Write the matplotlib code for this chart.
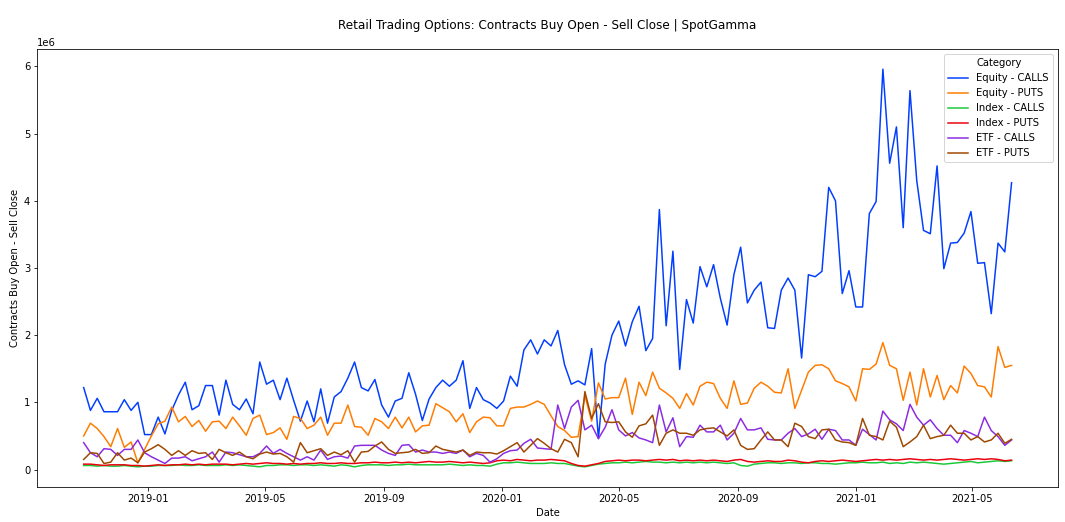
import pandas as pd
import numpy as np
import matplotlib
matplotlib.use("Agg")
import matplotlib.pyplot as plt

# weekly retail flow, values in millions of contracts
dates = pd.date_range(start="2018-10-26", periods=138, freq="7D")

equity_calls = [
    1.22, 0.88, 1.06, 0.86, 0.86, 0.86, 1.04, 0.88, 1.00, 0.52,
    0.52, 0.78, 0.53, 0.88, 1.11, 1.30, 0.89, 0.95, 1.25, 1.25,
    0.81, 1.33, 0.97, 0.89, 1.05, 0.83, 1.60, 1.27, 1.33, 1.04,
    1.36, 1.03, 0.72, 1.02, 0.71, 1.20, 0.69, 1.08, 1.16, 1.36,
    1.60, 1.22, 1.17, 1.34, 0.96, 0.78, 1.02, 1.06, 1.44, 1.12,
    0.73, 1.05, 1.22, 1.33, 1.24, 1.33, 1.62, 0.91, 1.22, 1.04,
    0.99, 0.91, 1.02, 1.39, 1.24, 1.78, 1.93, 1.72, 1.93, 1.84,
    2.07, 1.56, 1.27, 1.32, 1.26, 1.80, 0.46, 1.57, 2.00, 2.21,
    1.84, 2.20, 2.43, 1.77, 1.95, 3.87, 2.14, 3.25, 1.49, 2.53,
    2.18, 3.02, 2.72, 3.05, 2.55, 2.15, 2.90, 3.31, 2.48, 2.67,
    2.79, 2.11, 2.10, 2.67, 2.85, 2.67, 1.66, 2.90, 2.87, 2.95,
    4.20, 4.00, 2.62, 2.96, 2.42, 2.42, 3.81, 3.99, 5.96, 4.56,
    5.10, 3.60, 5.64, 4.30, 3.56, 3.51, 4.52, 2.99, 3.37, 3.38,
    3.52, 3.84, 3.07, 3.08, 2.32, 3.37, 3.24, 4.27,
]

equity_puts = [
    0.50, 0.69, 0.61, 0.49, 0.34, 0.61, 0.33, 0.41, 0.10, 0.30,
    0.50, 0.68, 0.72, 0.93, 0.71, 0.79, 0.64, 0.73, 0.57, 0.71,
    0.72, 0.61, 0.78, 0.65, 0.51, 0.76, 0.81, 0.52, 0.55, 0.62,
    0.45, 0.79, 0.76, 0.61, 0.66, 0.78, 0.51, 0.69, 0.69, 0.96,
    0.64, 0.63, 0.51, 0.76, 0.71, 0.61, 0.78, 0.62, 0.78, 0.56,
    0.65, 0.66, 0.98, 0.92, 0.86, 0.71, 0.83, 0.55, 0.71, 0.78,
    0.77, 0.65, 0.65, 0.91, 0.93, 0.93, 0.97, 1.02, 0.97, 0.80,
    0.64, 0.58, 0.48, 0.49, 1.10, 0.72, 1.29, 1.05, 1.07, 1.07,
    1.36, 0.82, 1.30, 1.10, 1.45, 1.21, 1.14, 1.06, 0.91, 1.13,
    0.96, 1.24, 1.30, 1.28, 1.06, 0.91, 1.32, 0.97, 0.99, 1.21,
    1.30, 1.24, 1.15, 1.14, 1.50, 0.91, 1.18, 1.45, 1.55, 1.56,
    1.50, 1.32, 1.28, 1.23, 1.02, 1.50, 1.49, 1.57, 1.89, 1.55,
    1.50, 1.03, 1.45, 0.96, 1.50, 1.08, 1.40, 1.04, 1.25, 1.14,
    1.54, 1.43, 1.25, 1.23, 1.08, 1.83, 1.52, 1.55,
]

index_calls = [
    0.06, 0.06, 0.05, 0.06, 0.05, 0.05, 0.06, 0.05, 0.04, 0.05,
    0.05, 0.06, 0.06, 0.06, 0.07, 0.06, 0.06, 0.07, 0.06, 0.06,
    0.06, 0.07, 0.06, 0.07, 0.06, 0.05, 0.04, 0.06, 0.06, 0.07,
    0.07, 0.06, 0.07, 0.07, 0.06, 0.07, 0.06, 0.05, 0.07, 0.06,
    0.04, 0.06, 0.07, 0.07, 0.07, 0.06, 0.07, 0.07, 0.08, 0.07,
    0.07, 0.07, 0.07, 0.07, 0.08, 0.07, 0.06, 0.07, 0.06, 0.06,
    0.05, 0.08, 0.10, 0.10, 0.11, 0.10, 0.09, 0.09, 0.09, 0.10,
    0.09, 0.09, 0.07, 0.05, 0.04, 0.06, 0.08, 0.09, 0.10, 0.10,
    0.11, 0.10, 0.11, 0.12, 0.11, 0.11, 0.10, 0.11, 0.10, 0.11,
    0.10, 0.11, 0.10, 0.11, 0.10, 0.09, 0.10, 0.06, 0.05, 0.08,
    0.09, 0.10, 0.10, 0.09, 0.10, 0.10, 0.09, 0.10, 0.10, 0.09,
    0.09, 0.08, 0.09, 0.10, 0.10, 0.11, 0.10, 0.10, 0.11, 0.09,
    0.10, 0.09, 0.11, 0.10, 0.11, 0.10, 0.09, 0.08, 0.09, 0.10,
    0.11, 0.12, 0.10, 0.11, 0.12, 0.13, 0.12, 0.13,
]

index_puts = [
    0.08, 0.08, 0.07, 0.06, 0.07, 0.07, 0.07, 0.06, 0.06, 0.05,
    0.06, 0.07, 0.06, 0.07, 0.07, 0.08, 0.07, 0.08, 0.07, 0.08,
    0.08, 0.08, 0.07, 0.08, 0.09, 0.08, 0.09, 0.10, 0.09, 0.09,
    0.08, 0.09, 0.08, 0.09, 0.09, 0.10, 0.09, 0.09, 0.10, 0.09,
    0.09, 0.10, 0.10, 0.11, 0.10, 0.10, 0.11, 0.10, 0.11, 0.10,
    0.11, 0.12, 0.11, 0.11, 0.12, 0.11, 0.10, 0.11, 0.10, 0.09,
    0.10, 0.13, 0.14, 0.13, 0.15, 0.14, 0.13, 0.14, 0.14, 0.15,
    0.14, 0.13, 0.09, 0.06, 0.05, 0.07, 0.09, 0.12, 0.13, 0.14,
    0.13, 0.14, 0.14, 0.13, 0.14, 0.15, 0.14, 0.15, 0.13, 0.14,
    0.13, 0.14, 0.13, 0.14, 0.13, 0.12, 0.14, 0.15, 0.12, 0.11,
    0.12, 0.13, 0.12, 0.12, 0.14, 0.13, 0.11, 0.10, 0.12, 0.13,
    0.12, 0.13, 0.14, 0.13, 0.12, 0.13, 0.14, 0.15, 0.14, 0.15,
    0.14, 0.15, 0.16, 0.15, 0.14, 0.15, 0.14, 0.15, 0.16, 0.15,
    0.14, 0.15, 0.16, 0.15, 0.16, 0.15, 0.13, 0.14,
]

etf_calls = [
    0.40, 0.25, 0.19, 0.31, 0.30, 0.21, 0.30, 0.30, 0.44, 0.25,
    0.19, 0.14, 0.09, 0.17, 0.17, 0.19, 0.13, 0.16, 0.19, 0.26,
    0.11, 0.26, 0.25, 0.22, 0.19, 0.19, 0.24, 0.35, 0.24, 0.30,
    0.24, 0.19, 0.14, 0.19, 0.14, 0.29, 0.15, 0.19, 0.20, 0.17,
    0.35, 0.36, 0.36, 0.36, 0.29, 0.24, 0.21, 0.36, 0.37, 0.26,
    0.29, 0.26, 0.26, 0.24, 0.26, 0.24, 0.29, 0.19, 0.24, 0.21,
    0.11, 0.16, 0.24, 0.28, 0.29, 0.39, 0.45, 0.32, 0.31, 0.30,
    0.96, 0.61, 0.93, 1.03, 0.59, 0.66, 0.46, 0.63, 0.89, 0.59,
    0.50, 0.55, 0.47, 0.44, 0.40, 0.96, 0.56, 0.77, 0.34, 0.49,
    0.48, 0.66, 0.56, 0.56, 0.66, 0.44, 0.54, 0.76, 0.59, 0.59,
    0.62, 0.45, 0.44, 0.44, 0.54, 0.61, 0.49, 0.53, 0.60, 0.45,
    0.60, 0.58, 0.44, 0.44, 0.36, 0.60, 0.52, 0.44, 0.87, 0.74,
    0.68, 0.58, 0.97, 0.78, 0.66, 0.74, 0.61, 0.51, 0.51, 0.40,
    0.58, 0.54, 0.49, 0.78, 0.58, 0.49, 0.36, 0.44,
]

etf_puts = [
    0.15, 0.25, 0.24, 0.09, 0.11, 0.25, 0.14, 0.17, 0.10, 0.26,
    0.31, 0.37, 0.30, 0.21, 0.28, 0.21, 0.28, 0.24, 0.25, 0.15,
    0.30, 0.25, 0.21, 0.26, 0.19, 0.16, 0.23, 0.26, 0.23, 0.24,
    0.19, 0.11, 0.40, 0.25, 0.28, 0.31, 0.21, 0.26, 0.22, 0.28,
    0.11, 0.26, 0.27, 0.35, 0.41, 0.30, 0.24, 0.25, 0.26, 0.30,
    0.24, 0.25, 0.35, 0.30, 0.28, 0.26, 0.29, 0.21, 0.26, 0.25,
    0.25, 0.23, 0.28, 0.34, 0.40, 0.26, 0.36, 0.46, 0.39, 0.31,
    0.26, 0.45, 0.40, 0.19, 1.16, 0.76, 0.98, 0.71, 0.70, 0.71,
    0.56, 0.48, 0.65, 0.68, 0.81, 0.36, 0.54, 0.59, 0.54, 0.54,
    0.51, 0.59, 0.61, 0.62, 0.56, 0.50, 0.59, 0.36, 0.30, 0.31,
    0.44, 0.56, 0.44, 0.44, 0.34, 0.69, 0.64, 0.49, 0.46, 0.59,
    0.60, 0.44, 0.41, 0.40, 0.36, 0.76, 0.51, 0.49, 0.44, 0.72,
    0.63, 0.34, 0.41, 0.49, 0.66, 0.46, 0.49, 0.51, 0.66, 0.54,
    0.54, 0.44, 0.49, 0.41, 0.44, 0.54, 0.39, 0.45,
]

categories = ["Equity - CALLS", "Equity - PUTS", "Index - CALLS",
              "Index - PUTS", "ETF - CALLS", "ETF - PUTS"]
series = [equity_calls, equity_puts, index_calls, index_puts, etf_calls, etf_puts]
# seaborn "bright" palette
colors = ["#023eff", "#ff7c00", "#1ac938", "#e8000b", "#8b2be2", "#9f4800"]

fig = plt.figure(figsize=(1065 / 72, 522 / 72), dpi=72)
ax = fig.add_axes([0.035, 0.0676, 0.9584, 0.838])

for name, vals, col in zip(categories, series, colors):
    ax.plot(dates, np.array(vals) * 1e6, color=col, lw=1.5, label=name)

ax.set_title("Retail Trading Options: Contracts Buy Open - Sell Close | SpotGamma",
             fontsize=12, pad=20)
ax.set_xlabel("Date")
ax.set_ylabel("Contracts Buy Open - Sell Close")
ax.legend(title="Category", loc="upper right")

fig.savefig("out.png", dpi=72)
